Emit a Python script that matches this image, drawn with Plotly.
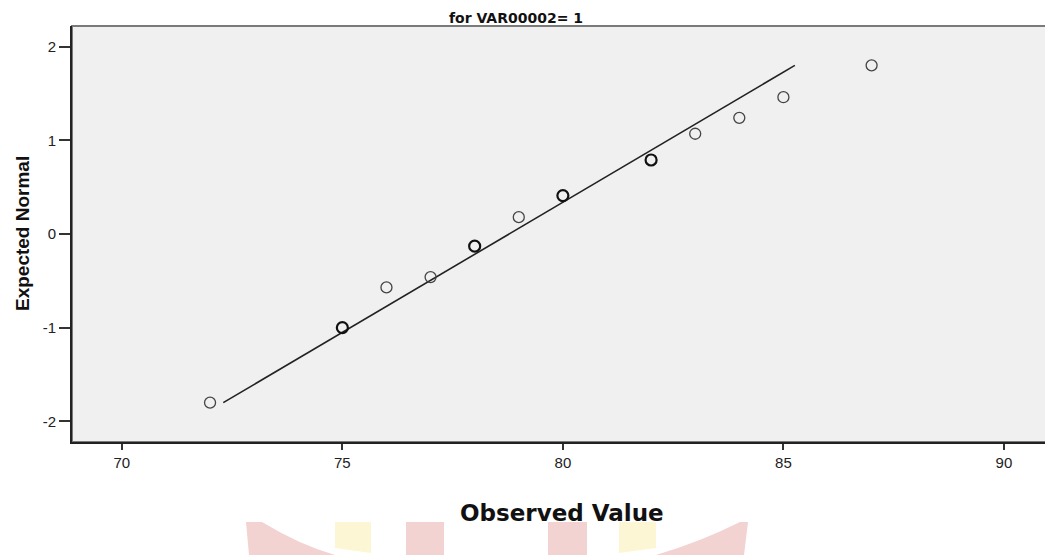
import plotly.graph_objects as go

# Observed values and their expected normal scores (unique points, with tie counts)
observed = [72, 75, 76, 77, 78, 79, 80, 82, 83, 84, 85, 87]
expected = [-1.80, -1.00, -0.57, -0.46, -0.13, 0.18, 0.41, 0.79, 1.07, 1.24, 1.46, 1.80]
counts = [1, 2, 1, 1, 2, 1, 2, 2, 1, 1, 1, 1]

# Reference normal line endpoints
line_x = [72.3, 85.26]
line_y = [-1.80, 1.80]

x_ticks = [70, 75, 80, 85, 90]
y_ticks = [-2, -1, 0, 1, 2]

# page has an 8px body margin: build the figure 8px smaller and shift
OFF = 8
W, H = 1053 - OFF, 555 - OFF
L, R, T, B = 72 - OFF, 1052 - OFF, 26 - OFF, 442 - OFF

fig = go.Figure()
fig.add_trace(go.Scatter(
    x=line_x, y=line_y, mode="lines",
    line=dict(color="#222222", width=1.6), hoverinfo="skip", showlegend=False))
fig.add_trace(go.Scatter(
    x=observed, y=expected, mode="markers",
    marker=dict(symbol="circle-open", size=11,
                color=["#111111" if c > 1 else "#444444" for c in counts],
                line=dict(width=[2.2 if c > 1 else 1.3 for c in counts])),
    showlegend=False))


def px(xp):
    return (xp - OFF - L) / (R - L)


def py(yp):
    return (B - (yp - OFF)) / (B - T)


red = "#f3d2d2"
yellow = "#fdf6d4"
shapes = [
    dict(type="rect", xref="paper", yref="paper", x0=0, x1=1, y0=0, y1=1,
         line=dict(color="#7a7a7a", width=2), layer="below"),
    dict(type="path", xref="paper", yref="paper", fillcolor=red, line=dict(width=0),
         path=f"M {px(246)},{py(522)} L {px(262)},{py(522)} Q {px(300)},{py(545)} {px(335)},{py(555)} L {px(249)},{py(555)} Z"),
    dict(type="path", xref="paper", yref="paper", fillcolor=yellow, line=dict(width=0),
         path=f"M {px(335)},{py(522)} L {px(371)},{py(522)} L {px(371)},{py(553)} L {px(335)},{py(548)} Z"),
    dict(type="rect", xref="paper", yref="paper", fillcolor=red, line=dict(width=0),
         x0=px(406), x1=px(444), y0=py(555), y1=py(522)),
    dict(type="rect", xref="paper", yref="paper", fillcolor=red, line=dict(width=0),
         x0=px(548), x1=px(587), y0=py(555), y1=py(522)),
    dict(type="path", xref="paper", yref="paper", fillcolor=yellow, line=dict(width=0),
         path=f"M {px(619)},{py(522)} L {px(656)},{py(522)} L {px(656)},{py(548)} L {px(619)},{py(553)} Z"),
    dict(type="path", xref="paper", yref="paper", fillcolor=red, line=dict(width=0),
         path=f"M {px(656)},{py(555)} Q {px(700)},{py(542)} {px(740)},{py(522)} L {px(748)},{py(522)} L {px(744)},{py(555)} Z"),
]

annotations = [
    dict(text="<b>for VAR00002= 1</b>", xref="paper", yref="paper", x=px(516), y=1,
         xanchor="center", yanchor="middle", yshift=8, showarrow=False,
         font=dict(family="DejaVu Sans", size=14, color="#111111")),
    dict(text="<b>Observed Value</b>", xref="paper", yref="paper", x=0.5, y=0,
         xanchor="center", yanchor="middle", yshift=-71, showarrow=False,
         font=dict(family="DejaVu Sans", size=23, color="#111111")),
    dict(text="<b>Expected Normal</b>", xref="paper", yref="paper", x=0, y=0.5,
         xanchor="center", yanchor="middle", xshift=-50, textangle=-90, showarrow=False,
         font=dict(family="Liberation Sans Narrow, Liberation Sans", size=19, color="#111111")),
]

fig.update_layout(
    width=W, height=H,
    margin=dict(l=L, r=W - R, t=T, b=H - B),
    paper_bgcolor="white", plot_bgcolor="#f0f0f0",
    shapes=shapes, annotations=annotations,
    showlegend=False,
)
fig.update_xaxes(
    range=[68.87, 91.09], tickvals=x_ticks, ticktext=[str(v) for v in x_ticks],
    showgrid=False, zeroline=False, showline=True, linecolor="#222222", linewidth=2,
    ticks="outside", ticklen=6, tickwidth=2, tickcolor="#333333",
    tickfont=dict(family="Liberation Sans, Arial", size=15, color="#222222"))
fig.update_yaxes(
    range=[-2.22, 2.22], tickvals=y_ticks, ticktext=[str(v) for v in y_ticks],
    showgrid=False, zeroline=False, showline=True, linecolor="#222222", linewidth=2,
    ticks="outside", ticklen=11, tickwidth=2, tickcolor="#333333",
    tickfont=dict(family="Liberation Sans, Arial", size=15, color="#222222"))

fig.write_html("out.html")
